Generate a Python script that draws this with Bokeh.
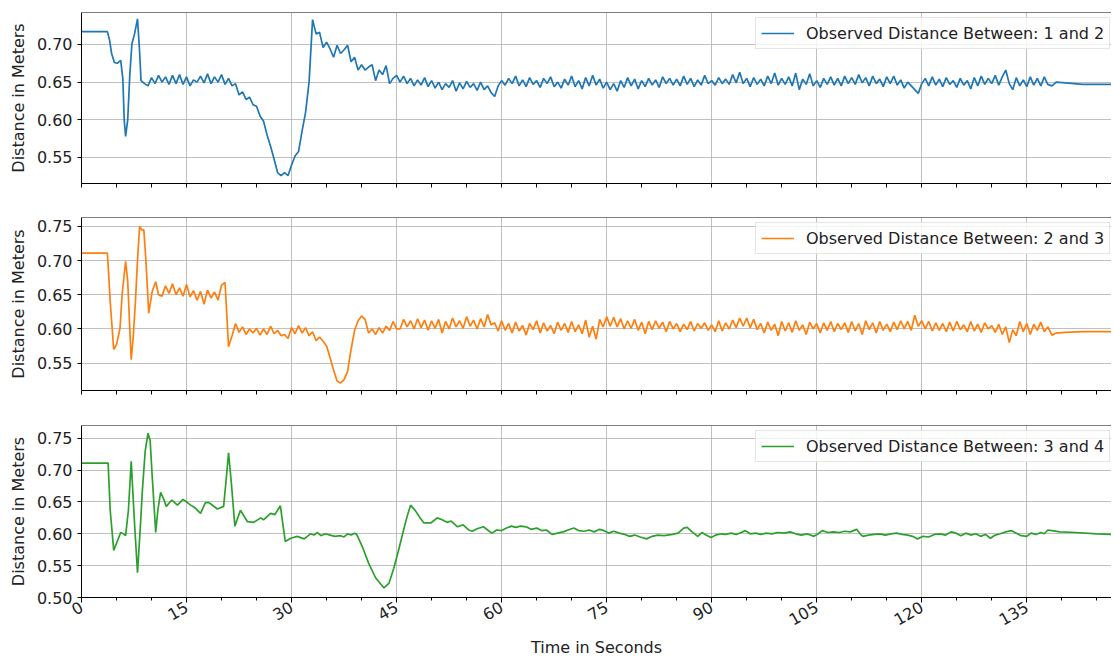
import math
import numpy as np
from bokeh.plotting import figure
from bokeh.layouts import column
from bokeh.models import Range1d, FixedTicker, PrintfTickFormatter, Span, Legend, LegendItem
from bokeh.embed import file_html
from bokeh.resources import INLINE

# ---------------- data ----------------
x_major_ticks = [0, 15, 30, 45, 60, 75, 90, 105, 120, 135]
x_minor_ticks = [5 * i for i in range(30)]
x_label = "Time in Seconds"
y_label = "Distance in Meters"
labels = ["Observed Distance Between: 1 and 2",
          "Observed Distance Between: 2 and 3",
          "Observed Distance Between: 3 and 4"]
colors = ["#1f77b4", "#ff7f0e", "#2ca02c"]

# series 1 (1 and 2): irregular start, then values every 0.5 s from 9.0 s, then tail
blue_t_start = [0, 3.7, 4.0, 4.3, 4.7, 5.1, 5.6, 5.9, 6.1, 6.3, 6.6, 6.9, 7.2, 7.6, 8.0, 8.3, 8.5]
blue_v_start = [0.717, 0.717, 0.706, 0.688, 0.676, 0.675, 0.679, 0.655, 0.600, 0.578,
                0.600, 0.660, 0.701, 0.715, 0.734, 0.690, 0.652]
blue_grid_t0 = 9.0
blue_v_grid = [
    0.648, 0.645, 0.656, 0.648, 0.659, 0.650, 0.657, 0.647, 0.659, 0.648,
    0.660, 0.647, 0.657, 0.645, 0.653, 0.650, 0.658, 0.649, 0.661, 0.648,
    0.657, 0.650, 0.660, 0.647, 0.655, 0.645, 0.648, 0.633, 0.637, 0.627,
    0.630, 0.620, 0.618, 0.605, 0.598, 0.580, 0.565, 0.548, 0.530, 0.526,
    0.530, 0.526, 0.540, 0.552, 0.558, 0.585, 0.610, 0.650, 0.733, 0.714,
    0.716, 0.696, 0.703, 0.694, 0.683, 0.699, 0.688, 0.693, 0.699, 0.677,
    0.683, 0.666, 0.673, 0.666, 0.670, 0.673, 0.652, 0.666, 0.660, 0.672,
    0.648, 0.655, 0.659,
    0.650, 0.658, 0.648, 0.655, 0.645, 0.653, 0.646, 0.656, 0.644, 0.652,
    0.642, 0.650, 0.640, 0.648, 0.643, 0.652, 0.638, 0.649, 0.641, 0.651,
    0.643, 0.648, 0.639, 0.650, 0.640, 0.645, 0.636, 0.631, 0.645, 0.652,
    0.646, 0.655, 0.648, 0.658, 0.645, 0.653, 0.644, 0.656, 0.647, 0.652,
    0.643, 0.655, 0.648, 0.657, 0.644, 0.650, 0.642, 0.654, 0.646, 0.658,
    0.644, 0.652, 0.641, 0.656, 0.645, 0.659, 0.646, 0.654, 0.642, 0.650,
    0.640, 0.648, 0.638, 0.652, 0.643, 0.656, 0.645, 0.654, 0.641, 0.652,
    0.644, 0.655, 0.646, 0.653, 0.643, 0.657, 0.648, 0.655, 0.646, 0.654,
    0.645, 0.658, 0.647, 0.655, 0.644, 0.653, 0.646, 0.659, 0.648, 0.652,
    0.646, 0.656, 0.648, 0.654, 0.647, 0.660, 0.649, 0.663, 0.648, 0.655,
    0.644, 0.656, 0.647, 0.654, 0.645, 0.658, 0.648, 0.662, 0.646, 0.655,
    0.647, 0.657, 0.645, 0.662, 0.640, 0.654, 0.647, 0.661, 0.645, 0.652,
    0.643, 0.655, 0.647, 0.657, 0.646, 0.655, 0.645, 0.658, 0.648, 0.656,
    0.647, 0.660, 0.649, 0.656, 0.645, 0.658, 0.648, 0.654, 0.644, 0.657,
    0.648, 0.658, 0.646, 0.653, 0.642, 0.650, 0.645, 0.640, 0.635, 0.648,
    0.655, 0.645, 0.657, 0.646, 0.654, 0.644, 0.656, 0.647, 0.652, 0.643,
    0.655, 0.646, 0.652, 0.641, 0.656, 0.645, 0.658, 0.647, 0.655, 0.648,
    0.659, 0.646, 0.657, 0.666, 0.648, 0.640, 0.656, 0.645, 0.653, 0.644,
    0.657, 0.646, 0.655, 0.645, 0.657, 0.647,
]
blue_t_end = [138.6, 139.2, 140.5, 143.0, 147.2]
blue_v_end = [0.645, 0.650, 0.649, 0.647, 0.647]

# series 2 (2 and 3)
orange_t_start = [0, 3.7, 4.1, 4.6, 5.0, 5.5, 5.8, 6.3, 6.6, 6.9, 7.1, 7.4, 7.7, 8.0,
                  8.3, 8.6, 8.9, 9.2, 9.6, 10.1, 10.6, 11.0]
orange_v_start = [0.711, 0.711, 0.640, 0.570, 0.577, 0.601, 0.650, 0.699, 0.670, 0.600,
                  0.555, 0.590, 0.640, 0.700, 0.750, 0.745, 0.745, 0.700, 0.623, 0.655,
                  0.669, 0.650]
orange_grid_t0 = 11.5
orange_v_grid = [
    0.648, 0.663, 0.652, 0.666, 0.650, 0.660, 0.648, 0.665, 0.647, 0.656,
    0.642, 0.655, 0.636, 0.657, 0.645, 0.654, 0.642, 0.664, 0.668, 0.574,
    0.590, 0.608, 0.595, 0.603, 0.592, 0.600, 0.594, 0.601, 0.591, 0.600,
    0.592, 0.604, 0.593, 0.598, 0.590, 0.592, 0.586, 0.602, 0.593, 0.605,
    0.594, 0.602, 0.590, 0.596, 0.583, 0.588, 0.582, 0.575, 0.558, 0.540,
    0.524, 0.521, 0.526, 0.538, 0.570, 0.598, 0.612, 0.619, 0.614, 0.594,
    0.600, 0.592, 0.602, 0.594, 0.604, 0.598, 0.611, 0.600,
    0.600, 0.614, 0.603, 0.612, 0.600, 0.615, 0.602, 0.613, 0.598, 0.612,
    0.601, 0.614, 0.594, 0.611, 0.600, 0.616, 0.603, 0.612, 0.601, 0.618,
    0.604, 0.613, 0.600, 0.615, 0.603, 0.621, 0.606, 0.609, 0.597, 0.612,
    0.598, 0.608, 0.594, 0.610, 0.597, 0.605, 0.591, 0.608, 0.599, 0.612,
    0.594, 0.609, 0.597, 0.605, 0.593, 0.610, 0.598, 0.608, 0.595, 0.611,
    0.596, 0.606, 0.593, 0.613, 0.588, 0.604, 0.585, 0.614, 0.603, 0.618,
    0.604, 0.617, 0.603, 0.615, 0.600, 0.612, 0.601, 0.614, 0.598, 0.610,
    0.593, 0.611, 0.599, 0.612, 0.601, 0.610, 0.596, 0.611, 0.600, 0.608,
    0.596, 0.607, 0.599, 0.611, 0.597, 0.608, 0.601, 0.609, 0.598, 0.606,
    0.596, 0.612, 0.597, 0.609, 0.600, 0.613, 0.602, 0.616, 0.604, 0.616,
    0.602, 0.614, 0.599, 0.608, 0.594, 0.610, 0.598, 0.607, 0.590, 0.611,
    0.597, 0.609, 0.595, 0.612, 0.598, 0.606, 0.592, 0.610, 0.600, 0.608,
    0.594, 0.609, 0.598, 0.611, 0.596, 0.608, 0.599, 0.609, 0.595, 0.611,
    0.597, 0.608, 0.592, 0.612, 0.599, 0.609, 0.594, 0.611, 0.598, 0.607,
    0.596, 0.610, 0.599, 0.612, 0.600, 0.611, 0.598, 0.620, 0.604, 0.612,
    0.600, 0.611, 0.597, 0.609, 0.598, 0.608, 0.596, 0.610, 0.597, 0.611,
    0.599, 0.606, 0.596, 0.611, 0.597, 0.607, 0.595, 0.609, 0.600, 0.605,
    0.595, 0.607, 0.592, 0.603, 0.580, 0.599, 0.590, 0.611, 0.596, 0.608,
    0.592, 0.607, 0.598, 0.610, 0.596, 0.603,
]
orange_t_end = [138.6, 139.2, 140.5, 143.0, 147.2]
orange_v_end = [0.591, 0.594, 0.595, 0.596, 0.596]

# series 3 (3 and 4)
green_t = [0, 3.8, 4.1, 4.6, 5.1, 5.6, 6.0, 6.3, 6.7, 7.1, 7.6, 8.0, 8.4, 8.7, 9.1, 9.5, 9.8,
           10.1, 10.6, 10.9, 11.3, 11.8, 12.1, 12.9, 13.7, 14.5, 15.6, 16.3, 17.0, 17.7,
           18.2, 18.8, 19.4, 20.3, 20.7, 21.0, 21.4, 21.9, 22.7, 23.2, 23.7, 24.6, 25.6,
           26.0, 27.0, 27.6, 28.4, 28.7, 29.1, 29.9, 30.8, 31.8, 32.7, 33.2, 33.7, 34.2,
           34.8, 35.5, 36.2, 37.0, 37.5, 38.0, 38.5, 39.0, 39.3, 40.1, 41.0, 42.0, 43.2,
           43.9, 44.6, 45.3, 46.0, 46.5, 47.0, 47.7, 48.3, 48.9, 49.9, 50.8, 51.5, 52.2,
           52.8, 53.7, 54.5, 55.3, 55.8, 56.5, 57.4, 58.0, 58.6, 59.3, 60.0, 60.7, 61.4,
           62.0, 62.7, 63.5, 64.2, 65.0, 65.7, 66.4, 67.2, 68.0, 68.8, 69.5, 70.3, 71.0,
           71.8, 72.5, 73.2, 74.0, 74.6, 75.3, 76.0, 76.8, 77.6, 78.3, 79.0, 79.8, 80.7,
           81.5, 82.3, 83.2, 84.4, 85.2, 86.0, 86.5, 87.2, 88.0, 88.6, 89.2, 89.9, 90.6,
           91.3, 92.0, 92.8, 93.5, 94.2, 94.8, 95.5, 96.3, 97.0, 97.8, 98.6, 99.4, 100.4,
           101.2, 102.0, 102.8, 103.6, 104.6, 105.2, 105.8, 106.6, 107.4, 108.2, 109.0,
           109.8, 110.7, 111.2, 111.6, 112.4, 113.2, 114.0, 114.8, 115.6, 116.4, 117.2,
           118.0, 118.7, 119.4, 120.2, 121.0, 121.8, 122.6, 123.4, 124.2, 124.9, 125.6,
           126.3, 127.0, 127.7, 128.4, 129.1, 129.8, 130.5, 131.2, 132.0, 132.8, 133.5,
           134.2, 135.0, 135.6, 136.3, 137.0, 137.5, 138.0, 138.6, 139.7, 142.0, 145.0,
           147.2]
green_v = [0.711, 0.711, 0.637, 0.574, 0.588, 0.602, 0.600, 0.597, 0.637, 0.714, 0.611,
           0.539, 0.610, 0.669, 0.730, 0.758, 0.747, 0.690, 0.602, 0.637, 0.665, 0.653,
           0.643, 0.653, 0.645, 0.654, 0.645, 0.640, 0.632, 0.649, 0.649, 0.644, 0.639,
           0.643, 0.690, 0.727, 0.680, 0.612, 0.637, 0.628, 0.619, 0.618, 0.625, 0.622,
           0.632, 0.630, 0.644, 0.620, 0.588, 0.593, 0.596, 0.592, 0.600, 0.598, 0.602,
           0.597, 0.600, 0.598, 0.596, 0.597, 0.595, 0.600, 0.598, 0.601, 0.599, 0.580,
           0.554, 0.531, 0.515, 0.522, 0.546, 0.575, 0.606, 0.627, 0.645, 0.636, 0.626,
           0.617, 0.617, 0.625, 0.622, 0.618, 0.620, 0.611, 0.614, 0.606, 0.604, 0.608,
           0.611, 0.606, 0.601, 0.606, 0.605, 0.609, 0.612, 0.610, 0.612, 0.611, 0.607,
           0.609, 0.605, 0.606, 0.599, 0.601, 0.603, 0.606, 0.609, 0.605, 0.604, 0.606,
           0.603, 0.607, 0.605, 0.601, 0.604, 0.601, 0.599, 0.596, 0.598, 0.595, 0.592,
           0.596, 0.598, 0.597, 0.599, 0.601, 0.609, 0.610, 0.603, 0.596, 0.602, 0.598,
           0.594, 0.598, 0.600, 0.599, 0.601, 0.599, 0.602, 0.605, 0.600, 0.601, 0.599,
           0.601, 0.600, 0.602, 0.601, 0.603, 0.600, 0.598, 0.600, 0.596, 0.600, 0.605,
           0.602, 0.603, 0.602, 0.604, 0.603, 0.607, 0.600, 0.596, 0.598, 0.599, 0.600,
           0.598, 0.600, 0.601, 0.599, 0.598, 0.596, 0.592, 0.596, 0.595, 0.599, 0.600,
           0.598, 0.603, 0.601, 0.597, 0.601, 0.598, 0.600, 0.596, 0.599, 0.593, 0.598,
           0.600, 0.603, 0.605, 0.601, 0.597, 0.596, 0.601, 0.599, 0.602, 0.600, 0.606,
           0.605, 0.603, 0.602, 0.600, 0.599]

y_ranges = [(0.5155, 0.7424), (0.510, 0.763), (0.500, 0.770)]
y_ticks = [[0.55, 0.60, 0.65, 0.70],
           [0.55, 0.60, 0.65, 0.70, 0.75],
           [0.50, 0.55, 0.60, 0.65, 0.70, 0.75]]
x_end = 147.1


def assemble(t_start, v_start, grid_t0, v_grid, t_end, v_end):
    t_grid = grid_t0 + 0.5 * np.arange(len(v_grid))
    t = list(t_start) + list(t_grid) + list(t_end)
    v = list(v_start) + list(v_grid) + list(v_end)
    return t, v


series = [
    assemble(blue_t_start, blue_v_start, blue_grid_t0, blue_v_grid, blue_t_end, blue_v_end),
    assemble(orange_t_start, orange_v_start, orange_grid_t0, orange_v_grid, orange_t_end, orange_v_end),
    (green_t, green_v),
]

FONT = "DejaVu Sans"
x_range = Range1d(0, x_end)
borders = [(12, 16), (18, 17), (18, 57)]
frame_hs = [171, 173, 172]

figs = []
for i in range(3):
    top_b, bot_b = borders[i]
    fh = frame_hs[i]
    p = figure(frame_width=1030, frame_height=fh, x_range=x_range,
               y_range=Range1d(*y_ranges[i]), output_backend="svg", toolbar_location=None,
               min_border_left=81, min_border_right=0, min_border_top=top_b,
               min_border_bottom=bot_b)
    p.outline_line_color = None
    p.background_fill_color = "white"
    p.border_fill_color = "white"

    t, v = series[i]
    r = p.line(t, v, line_color=colors[i], line_width=1.7)

    # axes
    if i < 2:
        # no tick labels on the upper panels: every tick drawn as a short mark
        p.xaxis.ticker = FixedTicker(ticks=[], minor_ticks=x_minor_ticks)
        p.xaxis.minor_tick_out = 4
    else:
        p.xaxis.ticker = FixedTicker(ticks=x_major_ticks, minor_ticks=x_minor_ticks)
        p.xaxis.major_tick_out = 5
        p.xaxis.minor_tick_out = 3
    p.xgrid.ticker = FixedTicker(ticks=x_major_ticks)
    p.yaxis.ticker = FixedTicker(ticks=y_ticks[i])
    p.yaxis.formatter = PrintfTickFormatter(format="%.2f")
    for ax in (p.xaxis[0], p.yaxis[0]):
        ax.axis_line_color = "black"
        ax.axis_line_width = 1
        ax.major_tick_line_color = "black"
        ax.minor_tick_line_color = "black"
        ax.major_tick_in = 0
        ax.minor_tick_in = 0
        ax.major_label_text_font = FONT
        ax.major_label_text_font_size = "16px"
        ax.major_label_text_color = "#222222"
        ax.axis_label_text_font = FONT
        ax.axis_label_text_font_size = "16px"
        ax.axis_label_text_font_style = "normal"
        ax.axis_label_text_color = "#222222"
    p.yaxis.major_tick_out = 4
    p.yaxis.minor_tick_out = 0
    p.yaxis.major_label_standoff = 5
    p.yaxis.axis_label = y_label
    p.yaxis.axis_label_standoff = 6
    if i == 2:
        p.xaxis.major_label_orientation = math.pi / 6
        p.xaxis.major_label_standoff = 3
        p.xaxis.axis_label = x_label
        p.xaxis.axis_label_standoff = 4

    # grid
    p.xgrid.grid_line_color = "#b0b0b0"
    p.ygrid.grid_line_color = "#b0b0b0"
    p.xgrid.grid_line_width = 0.8
    p.ygrid.grid_line_width = 0.8

    # top spine
    p.add_layout(Span(location=y_ranges[i][1], dimension="width", line_color="black",
                      line_width=1))

    legend = Legend(items=[LegendItem(label=labels[i], renderers=[r])],
                    location=(674, fh - 7 - 30))
    legend.label_text_font = FONT
    legend.label_text_font_size = "16px"
    legend.label_text_color = "#222222"
    legend.label_height = 20
    legend.glyph_height = 20
    legend.glyph_width = 33
    legend.label_standoff = 12
    legend.padding = 5
    legend.margin = 0
    legend.border_line_color = "#cccccc"
    legend.border_line_width = 1
    legend.background_fill_color = "white"
    legend.background_fill_alpha = 0.8
    p.add_layout(legend, "center")
    figs.append(p)

layout = column(*figs)
open("out.html", "w").write(file_html(layout, INLINE))
